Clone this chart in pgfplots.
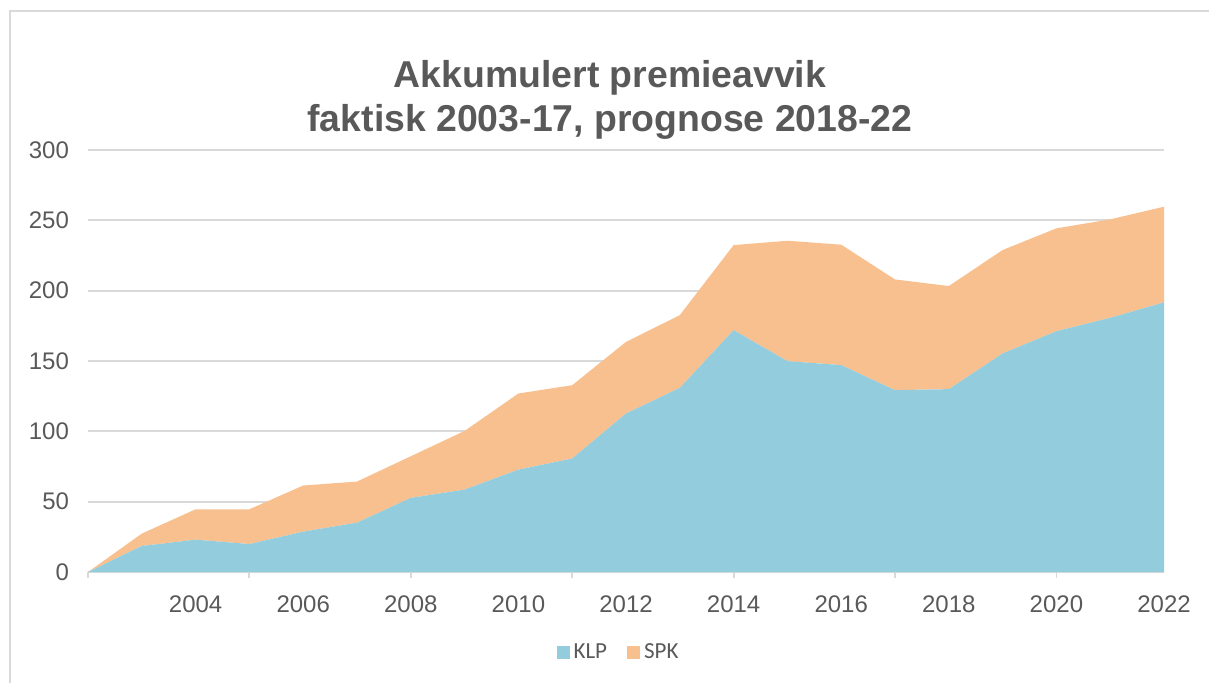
\documentclass[border=0pt]{standalone}
\usepackage{fontspec}
\setmainfont{Liberation Sans}
\newfontfamily\legfont{Carlito}
\usepackage{pgfplots}
\pgfplotsset{compat=1.18}
\definecolor{klp}{HTML}{93CDDD}
\definecolor{spk}{HTML}{F9C08F}
\definecolor{txt}{HTML}{595959}
\definecolor{gridc}{HTML}{D9D9D9}

% accumulated premium deviation, stacked: KLP at bottom, SPK on top
\pgfplotstableread{
year klp spk
2002 0.0 0.0
2003 18.5 8.8
2004 23.0 21.6
2005 19.9 24.7
2006 28.7 32.8
2007 35.1 29.2
2008 52.7 29.6
2009 58.6 41.7
2010 72.8 54.1
2011 80.7 52.1
2012 112.7 50.9
2013 130.9 51.7
2014 172.0 60.4
2015 149.9 85.6
2016 147.1 85.6
2017 129.3 78.7
2018 130.0 73.3
2019 155.4 73.5
2020 171.2 73.1
2021 180.7 70.0
2022 191.7 68.0
}\datatable

\begin{document}
\begin{tikzpicture}
\begin{axis}[
  at={(0pt,0pt)}, anchor=south west,
  scale only axis, width=538pt, height=211pt,
  xmin=2002, xmax=2022, ymin=0, ymax=300,
  stack plots=y,
  axis x line*=bottom, axis y line*=left,
  x axis line style={gridc, line width=0.9pt, -},
  y axis line style={draw=none},
  tick align=outside, major tick length=3pt,
  xtick={2002,2005,...,2020}, xticklabels={},
  xtick style={gridc, line width=0.9pt},
  extra x ticks={2004,2006,...,2022},
  extra x tick labels={2004,2006,2008,2010,2012,2014,2016,2018,2020,2022},
  extra x tick style={major tick length=0pt, tick style={draw=none}},
  ytick={0,50,...,300},
  ytick style={draw=none},
  ymajorgrids, grid style={gridc, line width=0.9pt},
  tick label style={font=\fontsize{12}{14}\selectfont, text=txt},
  xticklabel style={yshift=-8.5pt},
  yticklabel style={xshift=-3pt},
  /pgf/number format/assume math mode=true,
  legend columns=2,
  legend style={at={(0.494,-0.19)}, anchor=center, draw=none, fill=none,
    font=\legfont\fontsize{11.5}{13}\selectfont, text=txt,
    /tikz/every even column/.append style={column sep=8pt}},
  legend image code/.code={\fill[#1] (0pt,-3.25pt) rectangle (6.5pt,3.25pt);},
]
\addplot[fill=klp, draw=none] table[x=year, y=klp]{\datatable} \closedcycle;
\addplot[fill=spk, draw=none] table[x=year, y=spk]{\datatable} \closedcycle;
\legend{KLP, SPK}
\end{axis}
\node[anchor=base, text=txt, font=\fontsize{18.7}{22}\selectfont\bfseries] at (261pt,242.5pt) {Akkumulert premieavvik};
\node[anchor=base, text=txt, font=\fontsize{18.7}{22}\selectfont\bfseries] at (261pt,220.5pt) {faktisk 2003-17, prognose 2018-22};
\draw[gridc, line width=1pt] (-39pt,-70pt) -- (-39pt,280.5pt) -- (580pt,280.5pt);
\pgfresetboundingbox
\useasboundingbox (-44pt,-55pt) rectangle (560.5pt,286pt);
\end{tikzpicture}
\end{document}
